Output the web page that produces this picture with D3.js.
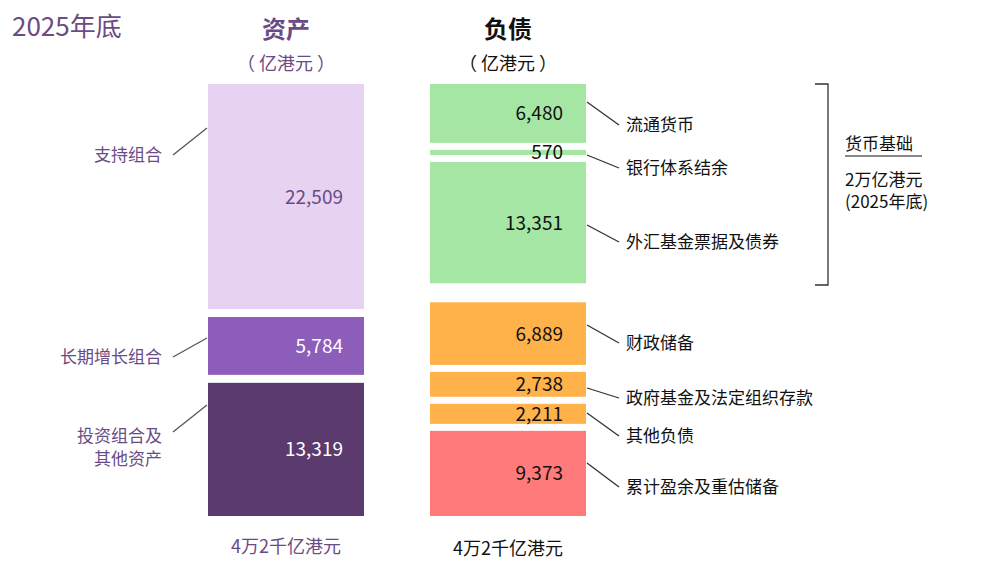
<!DOCTYPE html>
<html><head><meta charset="utf-8">
<script src="https://cdn.jsdelivr.net/npm/d3@7"></script>
<style>body{margin:0;background:#fff}text{font-family:"Noto Sans CJK SC","Noto Sans",sans-serif}</style>
</head><body><svg id="c" width="1001" height="575"></svg>
<script>
const assetLabels = [["支持组合"], ["长期增长组合"], ["投资组合及", "其他资产"]];
const assetValues = [22509, 5784, 13319];
const assetColors = ["#e7d3f1", "#8c5db9", "#5b3a6e"];
const assetText = ["#6b4b84", "#ffffff", "#ffffff"];
const liabLabels = ["流通货币", "银行体系结余", "外汇基金票据及债券", "财政储备", "政府基金及法定组织存款", "其他负债", "累计盈余及重估储备"];
const liabValues = [6480, 570, 13351, 6889, 2738, 2211, 9373];
const liabColors = ["#a6e6a4", "#a6e6a4", "#a6e6a4", "#ffb14a", "#ffb14a", "#ffb14a", "#ff7b7b"];
const liabGaps = [0, 7, 7, 19, 7, 7, 7];
const fmt = d3.format(",");
const svg = d3.select("#c");
const yTop = 84, yBottom = 516;

function stack(values, gaps) {
  const total = d3.sum(values), gapSum = d3.sum(gaps);
  const y = d3.scaleLinear().domain([0, total]).range([0, yBottom - yTop - gapSum]);
  let acc = 0, g = 0;
  return values.map((v, i) => { g += gaps[i]; const y0 = yTop + g + y(acc); acc += v; return { y0, h: y(v), v }; });
}
const A = stack(assetValues, [0, 8, 8]);
const L = stack(liabValues, liabGaps);
const ax = 208, lx = 430, bw = 156;

svg.selectAll(".a").data(A).enter().append("rect")
  .attr("x", ax).attr("y", d => d.y0).attr("width", bw).attr("height", d => d.h)
  .attr("fill", (d, i) => assetColors[i]);
svg.selectAll(".at").data(A).enter().append("text")
  .attr("x", 343).attr("y", d => d.y0 + d.h / 2 + 7)
  .attr("text-anchor", "end").attr("font-size", 19).attr("fill", (d, i) => assetText[i])
  .text(d => fmt(d.v));
// asset leaders
const aLab = [{ ly: 155, ty: 128 }, { ly: 357, ty: 338 }, { ly: 432, ty: 405 }];
aLab.forEach((p, i) => {
  svg.append("line").attr("x1", 173).attr("y1", p.ly).attr("x2", 207).attr("y2", p.ty).attr("stroke", "#555").attr("stroke-width", 1.3);
  const lines = assetLabels[i];
  lines.forEach((t, j) => svg.append("text").attr("x", 162).attr("y", (lines.length > 1 ? 442 + j * 23 : p.ly + 6))
    .attr("text-anchor", "end").attr("font-size", 17).attr("fill", "#6b4b84").text(t));
});

svg.selectAll(".l").data(L).enter().append("rect")
  .attr("x", lx).attr("y", d => d.y0).attr("width", bw).attr("height", d => d.h)
  .attr("fill", (d, i) => liabColors[i]);
svg.selectAll(".lt").data(L).enter().append("text")
  .attr("x", 563).attr("y", d => d.y0 + d.h / 2 + 7)
  .attr("text-anchor", "end").attr("font-size", 19).attr("fill", "#111")
  .text(d => fmt(d.v));
const lLab = [[102, 125], [155, 168], [225, 242], [325, 343], [388, 398], [413, 436], [463, 487]];
lLab.forEach((p, i) => {
  svg.append("line").attr("x1", 587).attr("y1", p[0]).attr("x2", 619).attr("y2", p[1]).attr("stroke", "#333").attr("stroke-width", 1.3);
  svg.append("text").attr("x", 626).attr("y", p[1] + 6).attr("font-size", 17).attr("fill", "#111").text(liabLabels[i]);
});

// brace
svg.append("path").attr("d", "M815,84 H828 V285 H815").attr("fill", "none").attr("stroke", "#333").attr("stroke-width", 1.3);
svg.append("text").attr("x", 845).attr("y", 150).attr("font-size", 17).attr("fill", "#111").text("货币基础");
svg.append("line").attr("x1", 845).attr("x2", 922).attr("y1", 156).attr("y2", 156).attr("stroke", "#111");
svg.append("text").attr("x", 845).attr("y", 186).attr("font-size", 17).attr("fill", "#111").text("2万亿港元");
svg.append("text").attr("x", 845).attr("y", 208).attr("font-size", 17).attr("fill", "#111").text("(2025年底)");

// titles
svg.append("text").attr("x", 12).attr("y", 36).attr("font-size", 26).attr("fill", "#6b4b84").text("2025年底");
svg.append("text").attr("x", 286).attr("y", 38).attr("text-anchor", "middle").attr("font-size", 24).attr("font-weight", "bold").attr("fill", "#6b4b84").text("资产");
svg.append("text").attr("x", 286).attr("y", 70).attr("text-anchor", "middle").attr("font-size", 18).attr("fill", "#6b4b84").text("（ 亿港元 ）");
svg.append("text").attr("x", 508).attr("y", 38).attr("text-anchor", "middle").attr("font-size", 24).attr("font-weight", "bold").attr("fill", "#111").text("负债");
svg.append("text").attr("x", 508).attr("y", 70).attr("text-anchor", "middle").attr("font-size", 18).attr("fill", "#111").text("（ 亿港元 ）");
svg.append("text").attr("x", 286).attr("y", 553).attr("text-anchor", "middle").attr("font-size", 18).attr("fill", "#6b4b84").text("4万2千亿港元");
svg.append("text").attr("x", 508).attr("y", 555).attr("text-anchor", "middle").attr("font-size", 18).attr("fill", "#111").text("4万2千亿港元");
</script></body></html>
